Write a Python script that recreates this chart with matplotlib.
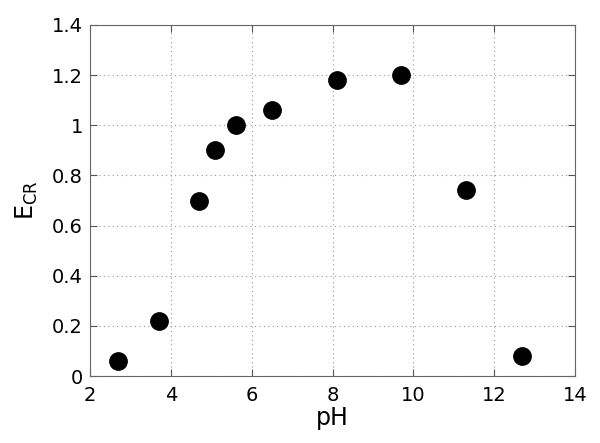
import matplotlib
matplotlib.use("Agg")
import matplotlib.pyplot as plt

# valores
ph = [2.7, 3.7, 4.7, 5.1, 5.6, 6.5, 8.1, 9.7, 11.3, 12.7]
ecr = [0.06, 0.22, 0.70, 0.90, 1.00, 1.06, 1.18, 1.20, 0.74, 0.08]
xticks = [2, 4, 6, 8, 10, 12, 14]
yticks = [0, 0.2, 0.4, 0.6, 0.8, 1, 1.2, 1.4]
yticklabels = ["0", "0.2", "0.4", "0.6", "0.8", "1", "1.2", "1.4"]

fig = plt.figure(figsize=(6, 4.43), dpi=100)
ax = fig.add_axes([90 / 600, 1 - 376 / 443, 485 / 600, 351 / 443])

ax.plot(ph, ecr, "o", color="black", markersize=12.5, linestyle="none")

ax.set_xlim(2, 14)
ax.set_ylim(0, 1.4)
ax.set_xticks(xticks)
ax.set_yticks(yticks)
ax.set_yticklabels(yticklabels)
ax.grid(True, linestyle=(0, (1, 3)), color="#999999", linewidth=0.8)
ax.tick_params(direction="in", top=True, right=True, labelsize=14, length=5,
               color="#555555")
ax.tick_params(axis="x", pad=7)
ax.tick_params(axis="y", pad=5)
for s in ax.spines.values():
    s.set_color("#666666")
ax.set_xlabel("pH", fontsize=17, labelpad=1)
ax.set_ylabel(r"E$_{\mathregular{CR}}$", fontsize=17, labelpad=9)

fig.savefig("out.png", dpi=100)
